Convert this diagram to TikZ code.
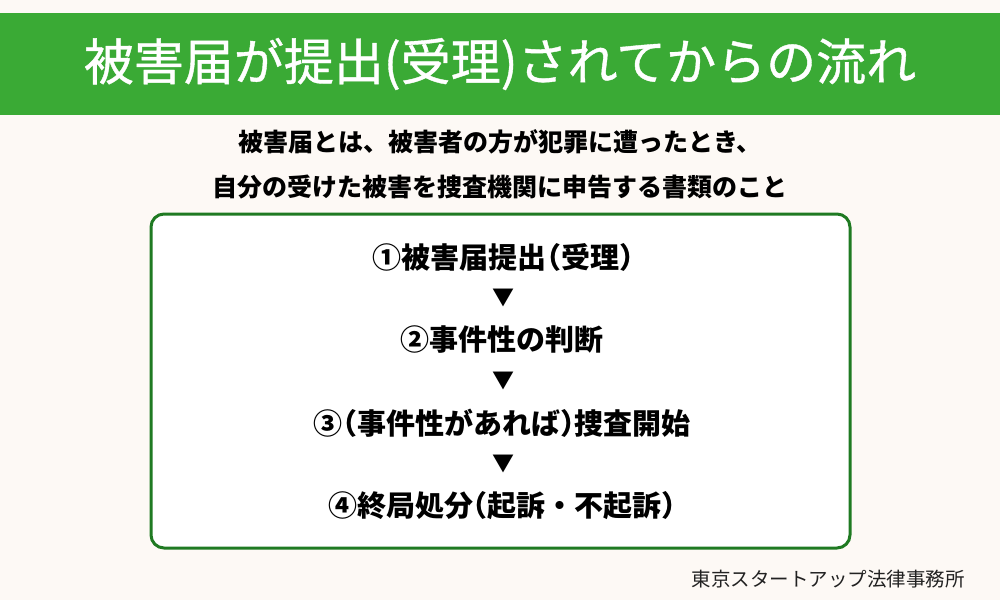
\documentclass[tikz,border=0pt]{standalone}
\usepackage{fontspec}
\setmainfont{Noto Sans CJK JP}
\newfontfamily\jp{Noto Sans CJK JP}
\newfontfamily\jptitle[FakeBold=0.8]{Noto Sans CJK JP}
\newcommand{\hlp}{{\addfontfeature{RawFeature=+halt}（}}
\newcommand{\hrp}{{\addfontfeature{RawFeature=+halt}）}}
\definecolor{bg}{HTML}{FDF9F5}
\definecolor{band}{HTML}{3AAA35}
\definecolor{boxline}{HTML}{1F7A22}
\definecolor{foot}{HTML}{222222}
\begin{document}
\begin{tikzpicture}[x=1pt,y=-1pt,
  title/.style={text=white,font=\jptitle\fontsize{50}{50}\selectfont,inner sep=0pt},
  sub/.style={text=black,font=\jp\bfseries\fontsize{25}{25}\selectfont,inner sep=0pt},
  item/.style={text=black,font=\jp\bfseries\fontsize{29}{29}\selectfont,inner sep=0pt},
  tri/.style={text=black,font=\jp\fontsize{22}{22}\selectfont,inner sep=0pt},
  footer/.style={text=foot,font=\jp\fontsize{19.5}{19.5}\selectfont,inner sep=0pt}]
\useasboundingbox (0,0) rectangle (1000,600);
\fill[bg] (0,0) rectangle (1000,600);
\fill[band] (0,13) rectangle (1000,115);
\node[title] (t) at (500,64) {被害届が提出(受理)されてからの流れ};
\node[sub] (s1) at (500,142) {被害届とは、被害者の方が犯罪に遭ったとき、};
\node[sub] (s2) at (500,187) {自分の受けた被害を捜査機関に申告する書類のこと};
\draw[boxline,line width=3pt,fill=white,rounded corners=13pt] (151,214) rectangle (850,548);
\node[item] (i1) at (503,257) {①被害届提出\hlp 受理\hrp};
\node[tri] (a1) at (503,298) {▼};
\node[item] (i2) at (502,340) {②事件性の判断};
\node[tri] (a2) at (503,381) {▼};
\node[item] (i3) at (502,423) {③\hlp 事件性があれば\hrp 捜査開始};
\node[tri] (a3) at (503,464) {▼};
\node[item] (i4) at (502,506) {④終局処分\hlp 起訴・不起訴\hrp};
\node[footer,anchor=east] (f) at (965,579) {東京スタートアップ法律事務所};
\end{tikzpicture}
\end{document}
